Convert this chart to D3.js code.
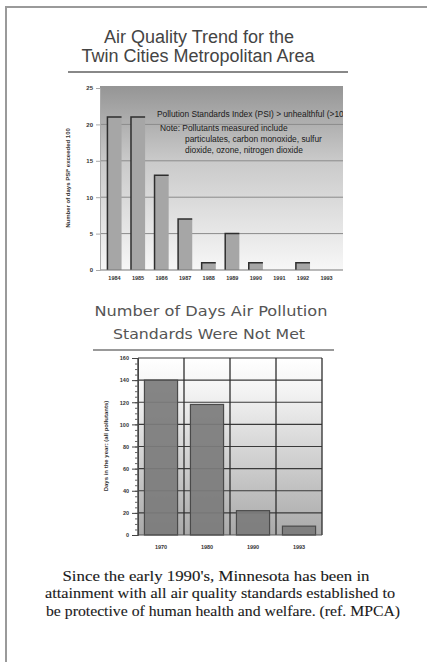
<!DOCTYPE html>
<html>
<head>
<meta charset="utf-8">
<script src="https://cdn.jsdelivr.net/npm/d3@7"></script>
<style>
    body { margin: 0; background: #fff; }
    svg { display: block; }
</style>
</head>
<body>
<div id="chart"></div>
<script>
// top chart data
let psiYears = ['1984', '1985', '1986', '1987', '1988', '1989', '1990', '1991', '1992', '1993'];
let psiDays = [21, 21, 13, 7, 1, 5, 1, 0, 1, 0];
let psiTicks = [0, 5, 10, 15, 20, 25];

// bottom chart data
let stdYears = ['1970', '1980', '1990', '1993'];
let stdDays = [140, 118, 22, 8];
let stdTicks = [0, 20, 40, 60, 80, 100, 120, 140, 160];

let legendLines = [
    'Pollution Standards Index (PSI) > unhealthful (>100)',
    'Note: Pollutants measured include',
    'particulates, carbon monoxide, sulfur',
    'dioxide, ozone, nitrogen dioxide'
];
let captionLines = [
    "Since the early 1990's, Minnesota has been in",
    'attainment with all air quality  standards established to',
    'be protective of human health and welfare. (ref. MPCA)'
];

let width = 427, height = 662;

let svg = d3.select('#chart').append('svg')
    .attr('width', width)
    .attr('height', height);

let defs = svg.append('defs');

let g1 = defs.append('linearGradient').attr('id', 'bgTop')
    .attr('x1', 0).attr('y1', 0).attr('x2', 0).attr('y2', 1);
g1.append('stop').attr('offset', '0%').attr('stop-color', '#959595');
g1.append('stop').attr('offset', '40%').attr('stop-color', '#c9c9c9');
g1.append('stop').attr('offset', '100%').attr('stop-color', '#f7f7f7');

let g2 = defs.append('linearGradient').attr('id', 'bgBottom')
    .attr('x1', 0).attr('y1', 0).attr('x2', 0).attr('y2', 1);
g2.append('stop').attr('offset', '0%').attr('stop-color', '#ffffff');
g2.append('stop').attr('offset', '20%').attr('stop-color', '#f2f2f2');
g2.append('stop').attr('offset', '100%').attr('stop-color', '#a9a9a9');

defs.append('clipPath').attr('id', 'clipTop')
    .append('rect').attr('x', 100).attr('y', 86).attr('width', 243).attr('height', 184);

// page frame
svg.append('line').attr('x1', 5).attr('x2', width).attr('y1', 7).attr('y2', 7)
    .attr('stroke', '#9a9a9a').attr('stroke-width', 2);
svg.append('line').attr('x1', 6).attr('x2', 6).attr('y1', 7).attr('y2', height)
    .attr('stroke', '#9a9a9a').attr('stroke-width', 2);

// ---------- top chart ----------
let title1 = svg.append('text')
    .attr('text-anchor', 'middle')
    .style('font-family', 'Liberation Sans, Arial, sans-serif')
    .style('font-size', '18px')
    .attr('fill', '#444');
title1.append('tspan').attr('x', 199).attr('y', 43).text('Air Quality Trend for the');
title1.append('tspan').attr('x', 198).attr('y', 62).text('Twin Cities Metropolitan Area');

svg.append('line').attr('x1', 68).attr('x2', 348).attr('y1', 72).attr('y2', 72)
    .attr('stroke', '#888').attr('stroke-width', 2);

let x1 = d3.scaleBand().domain(psiYears).range([98, 343]).paddingInner(0.4).paddingOuter(0.4);
let y1 = d3.scaleLinear().domain([0, 25]).range([270, 88]);

let topChart = svg.append('g');

topChart.append('rect').attr('x', 100).attr('y', 86).attr('width', 243).attr('height', 184)
    .attr('fill', 'url(#bgTop)');

topChart.append('g').selectAll('line')
    .data(psiTicks.filter(function(d) { return d > 0 && d < 25; }))
    .enter().append('line')
    .attr('x1', 100).attr('x2', 343)
    .attr('y1', function(d) { return y1(d); })
    .attr('y2', function(d) { return y1(d); })
    .attr('stroke', '#8a8a8a').attr('stroke-width', 1);

// bars: light fill with a dark left + top edge
let barG = topChart.append('g');
psiDays.forEach(function(d, i) {
    if (d <= 0) return;
    let bx = x1(psiYears[i]), bw = x1.bandwidth(), by = y1(d);
    barG.append('rect')
        .attr('x', bx).attr('y', by)
        .attr('width', bw).attr('height', y1(0) - by)
        .attr('fill', '#a6a6a6');
    barG.append('path')
        .attr('d', 'M' + bx + ',' + y1(0) + 'V' + by + 'H' + (bx + bw))
        .attr('fill', 'none').attr('stroke', '#2e2e2e').attr('stroke-width', 1.5);
});

topChart.append('g').attr('clip-path', 'url(#clipTop)')
    .append('text')
    .style('font-family', 'Liberation Sans, Arial, sans-serif')
    .style('font-size', '8.4px')
    .attr('fill', '#1a1a1a')
    .selectAll('tspan')
    .data(legendLines)
    .enter().append('tspan')
    .attr('x', function(d, i) { return i === 0 ? 157 : (i === 1 ? 160 : 185); })
    .attr('y', function(d, i) { return [117, 131, 142, 153][i]; })
    .text(function(d) { return d; });

topChart.append('line').attr('x1', 100).attr('x2', 343).attr('y1', 270).attr('y2', 270)
    .attr('stroke', '#777');

topChart.append('g')
    .attr('transform', 'translate(100,0)')
    .call(d3.axisLeft(y1).tickValues(psiTicks).tickSize(4).tickPadding(3))
    .call(function(g) {
        g.select('.domain').attr('stroke', '#aaa');
        g.selectAll('line').attr('stroke', '#aaa');
        g.selectAll('text').style('font-family', 'Liberation Sans, Arial, sans-serif')
            .style('font-size', '6px').style('font-weight', 'bold').attr('fill', '#333');
    });

topChart.append('g')
    .attr('transform', 'translate(0,270)')
    .call(d3.axisBottom(x1).tickSize(0).tickPadding(6))
    .call(function(g) {
        g.select('.domain').remove();
        g.selectAll('text').style('font-family', 'Liberation Sans, Arial, sans-serif')
            .style('font-size', '5.5px').style('font-weight', 'bold').attr('fill', '#333');
    });

topChart.append('text')
    .attr('transform', 'translate(70,178) rotate(-90)')
    .attr('text-anchor', 'middle')
    .style('font-family', 'Liberation Sans, Arial, sans-serif')
    .style('font-size', '6px').style('font-weight', 'bold')
    .attr('fill', '#333')
    .text('Number of days PSI* exceeded 100');

// ---------- bottom chart ----------
let title2 = svg.append('text')
    .attr('text-anchor', 'middle')
    .style('font-family', 'DejaVu Sans, sans-serif')
    .style('font-size', '14.5px')
    .attr('fill', '#555');
title2.append('tspan').attr('x', 211).attr('y', 316)
    .attr('textLength', 233).attr('lengthAdjust', 'spacingAndGlyphs')
    .text('Number of Days Air Pollution');
title2.append('tspan').attr('x', 209).attr('y', 339)
    .attr('textLength', 192).attr('lengthAdjust', 'spacingAndGlyphs')
    .text('Standards Were Not Met');

svg.append('line').attr('x1', 93).attr('x2', 334).attr('y1', 350).attr('y2', 350)
    .attr('stroke', '#777').attr('stroke-width', 1.5);

let x2 = d3.scaleBand().domain(stdYears).range([138, 322]).paddingInner(0.28).paddingOuter(0.14);
let y2 = d3.scaleLinear().domain([0, 160]).range([535, 358]);

let botChart = svg.append('g');

botChart.append('rect').attr('x', 138).attr('y', 358).attr('width', 184).attr('height', 177)
    .attr('fill', 'url(#bgBottom)');

botChart.append('g').selectAll('line')
    .data(stdTicks.filter(function(d) { return d > 0; }))
    .enter().append('line')
    .attr('x1', 138).attr('x2', 322)
    .attr('y1', function(d) { return y2(d); })
    .attr('y2', function(d) { return y2(d); })
    .attr('stroke', '#3a3a3a').attr('stroke-width', 1.2);

botChart.append('g').selectAll('rect')
    .data(stdDays)
    .enter().append('rect')
    .attr('x', function(d, i) { return x2(stdYears[i]); })
    .attr('y', function(d) { return y2(d); })
    .attr('width', x2.bandwidth())
    .attr('height', function(d) { return y2(0) - y2(d); })
    .attr('fill', '#7c7c7c')
    .attr('fill-opacity', 0.93)
    .attr('stroke', '#4a4a4a').attr('stroke-width', 1.2);

// vertical category dividers
botChart.append('g').selectAll('line')
    .data(d3.range(stdYears.length + 1))
    .enter().append('line')
    .attr('x1', function(d) { return 138 + d * x2.step(); })
    .attr('x2', function(d) { return 138 + d * x2.step(); })
    .attr('y1', 358).attr('y2', 535)
    .attr('stroke', '#2e2e2e').attr('stroke-width', 1.3);

botChart.append('line').attr('x1', 138).attr('x2', 322).attr('y1', 535).attr('y2', 535)
    .attr('stroke', '#555');

// minor ticks on y axis
botChart.append('g')
    .attr('transform', 'translate(138,0)')
    .call(d3.axisLeft(y2).tickValues(d3.range(0, 161, 5)).tickSize(3).tickFormat(''))
    .call(function(g) {
        g.select('.domain').remove();
        g.selectAll('line').attr('stroke', '#666');
    });

botChart.append('g')
    .attr('transform', 'translate(138,0)')
    .call(d3.axisLeft(y2).tickValues(stdTicks).tickSize(6).tickPadding(3))
    .call(function(g) {
        g.select('.domain').attr('stroke', '#444');
        g.selectAll('line').attr('stroke', '#444');
        g.selectAll('text').style('font-family', 'Liberation Sans, Arial, sans-serif')
            .style('font-size', '5.5px').style('font-weight', 'bold').attr('fill', '#333');
    });

botChart.append('g')
    .attr('transform', 'translate(0,535)')
    .call(d3.axisBottom(x2).tickSize(0).tickPadding(10))
    .call(function(g) {
        g.select('.domain').remove();
        g.selectAll('text').style('font-family', 'Liberation Sans, Arial, sans-serif')
            .style('font-size', '5.5px').style('font-weight', 'bold').attr('fill', '#333');
    });

botChart.append('text')
    .attr('transform', 'translate(108,446) rotate(-90)')
    .attr('text-anchor', 'middle')
    .style('font-family', 'Liberation Sans, Arial, sans-serif')
    .style('font-size', '6px').style('font-weight', 'bold')
    .attr('fill', '#333')
    .text('Days in the year: (all pollutants)');

// ---------- caption ----------
let captionX = [216, 220, 223];
let captionW = [307, 350, 354];
svg.append('text')
    .attr('text-anchor', 'middle')
    .style('font-family', 'Liberation Serif, Times New Roman, serif')
    .style('font-size', '14px')
    .attr('fill', '#1a1a1a')
    .attr('stroke', '#1a1a1a').attr('stroke-width', 0.1)
    .selectAll('tspan')
    .data(captionLines)
    .enter().append('tspan')
    .attr('x', function(d, i) { return captionX[i]; })
    .attr('y', function(d, i) { return 581 + i * 17.3; })
    .attr('textLength', function(d, i) { return captionW[i]; })
    .attr('lengthAdjust', 'spacingAndGlyphs')
    .text(function(d) { return d; });
</script>
</body>
</html>
